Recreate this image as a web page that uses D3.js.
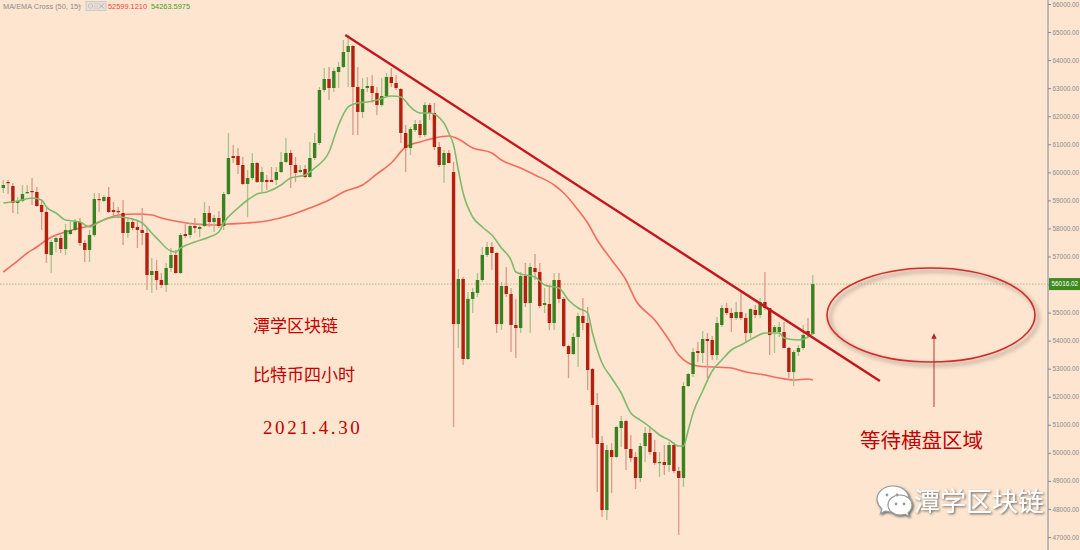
<!DOCTYPE html>
<html><head><meta charset="utf-8">
<script src="https://cdn.jsdelivr.net/npm/d3@7"></script>
<style>
html,body{margin:0;padding:0;background:#fde5cf;}
svg{display:block;}
</style></head>
<body>
<svg id="chart" width="1080" height="550"></svg>
<script>
// ---- data (4h BTC candles) ----
const open = [59441,59655,59512,58906,58977,59263,59334,59298,58835,58585,57053,57516,57658,57266,57801,57944,58229,57480,57231,57765,
59049,58977,59120,58657,58621,58550,57837,58229,58051,57944,57837,56340,56482,56161,55983,56589,57053,56411,57801,57765,
58086,57980,58086,58550,58229,58372,58086,59227,60582,60582,60261,59584,59798,60332,59655,59726,59726,59726,60011,60368,
60689,60261,60011,60118,59833,60510,61045,62935,63327,63006,63576,63755,64289,64503,63042,62150,63006,63077,62828,62400,
62721,63398,63184,62970,61402,60867,61508,61722,61330,62400,62115,60902,60261,60689,60011,54592,56197,53345,55486,55698,
56161,57053,57338,57124,54592,55947,55662,54557,54450,56304,55341,56589,56447,55270,55306,54628,56161,55486,53808,53523,
54129,54878,54628,52988,51705,50351,47962,50100,49851,50885,51134,50136,49851,49103,50243,50707,50029,49637,49673,49566,
50279,49352,49103,52382,52810,53630,53559,54058,54022,53487,54557,55163,54985,54806,55020,54806,54272,55092,54914,55377,
55163,54307,54307,54307,53737,52881,53594,53737,54343,54236];
const high = [59726,59726,59619,59120,59548,59548,59798,59477,59013,58728,57587,57765,57765,58158,58229,58336,58372,57587,57944,59263,
59263,59191,59477,58942,58764,59013,58372,58372,58300,58728,58015,56946,56874,56411,56767,57302,57231,57837,58158,58193,
58372,58193,58942,58799,58478,58621,59298,61402,60974,60867,60546,60083,60689,60368,60190,59905,60190,60190,60724,61223,
60796,60546,60261,60261,61081,61402,63042,63719,63755,63719,63933,64717,64895,64539,63755,63362,63398,63469,63042,63362,
63541,63719,63469,63006,61687,61615,61865,61865,62507,62471,62471,61081,60796,60796,60368,56553,56268,55733,55876,56411,
57338,57516,57516,57159,56090,56625,55876,55486,56447,56767,56767,57088,56767,55876,55912,56411,56411,55555,53844,54272,
54985,55519,55199,53024,52133,50600,50279,50351,50956,51313,51170,50636,50029,50351,50921,50885,50457,50029,50279,50386,
50386,49494,52525,52846,53737,53951,54343,54272,54165,54842,55270,55341,55163,55377,55733,54985,55163,55270,55519,56447,
55163,54557,54664,54664,53773,53666,53844,54557,54806,56340];
const low = [59263,59227,58550,58514,58942,59227,58835,58764,57944,56767,56411,57159,57124,57053,57765,57908,57373,56803,56803,57694,
58585,58942,58550,58407,58372,57409,57658,57944,57302,57409,55805,55698,55805,55876,55733,56447,56375,56375,57658,57658,
57837,57694,58051,58051,57872,58015,57944,59191,60332,59940,59548,58407,59726,59619,59298,59370,59655,59548,59976,60332,
59441,59655,59976,59798,59798,60439,60974,62864,62578,62864,63006,63719,63042,61330,61330,61936,62864,62471,62043,62329,
62685,63042,62935,61045,60011,60617,61437,61223,61259,61865,60796,60190,59619,60332,50921,53737,53131,53309,54985,55555,
56090,56981,56518,54272,54379,55555,53594,53381,54272,55199,54272,56161,55163,54985,54379,54379,55341,53773,52668,53487,
53060,54379,52240,50529,48603,47712,47605,48568,49815,50207,49388,49673,48710,48960,49673,49922,49566,49138,49210,49316,
49281,47070,48782,52347,52703,53238,53202,52668,53309,53309,54485,54914,54307,54735,54735,53951,54093,54806,54806,55092,
53487,53559,54129,53737,52668,52382,53452,53666,54129,54200];
const close = [59548,59619,58906,58977,59227,59298,59298,58799,58585,57088,57516,57658,57266,57944,57944,58229,57480,57231,57765,59049,
59013,59120,58585,58585,58585,57837,58229,58015,57944,57837,56340,56482,56161,55983,56589,57053,56411,57765,57730,58086,
58015,58051,58550,58229,58372,58086,59227,60510,60510,60261,59584,59798,60332,59655,60011,59655,59655,60011,60368,60689,
60261,59976,60083,59833,60510,61045,62935,63327,63006,63612,63755,64289,64503,63042,62150,62970,63077,62828,62400,62721,
63398,63184,63006,61402,60867,61544,61722,61330,62400,62115,60902,60261,60689,60332,54592,56197,53345,55486,55733,56161,
57053,57338,57124,54592,55947,55662,54557,54450,56304,55341,56625,56447,55234,55341,54628,56161,55486,53808,53523,54129,
54878,54628,52953,51705,50314,47962,50100,49851,50921,51134,50136,49815,49103,50243,50707,50029,49637,49673,49566,50279,
49352,49103,52382,52810,53594,53559,54058,53986,53487,54628,55163,54985,54806,55020,54806,54272,55127,54914,55377,55163,
54200,54485,54485,53737,52881,53594,53737,54200,54236,56016];

// EMA(15) line, sampled at candle indices
const emaIdx = [0,3,6,8,9,11,13,16,18,20,22,24,26,29,31,33,34,36,37,40,43,45,46,49,51,53,55,58,60,63,65,68,70,72,74,76,78,81,83,85,87,89,92,93,94,95,96,98,100,102,104,106,107,109,111,113,116,118,120,122,123,125,127,129,131,133,135,137,139,141,142,143,144,146,148,150,152,154,157,159,162,163,166,168,169];
const emaVal = [58906,58977,59084,59013,58764,58550,58300,58229,58051,58229,58372,58407,58372,58193,57837,57480,57302,57159,57302,57516,57694,57872,58193,58728,59013,59227,59298,59548,59798,59905,60154,60724,61687,62329,62471,62507,62578,62721,62685,62329,62115,62115,61758,61402,60974,60083,59263,58407,58051,57765,57302,56874,56447,56340,56268,55983,55876,55448,55163,54985,54272,53202,52668,52133,51420,51170,50921,50636,50457,50243,50243,50814,51420,52204,52917,53309,53666,53844,54129,54272,54272,54093,54022,54129,54264];
// MA(50) line, sampled at candle indices
const maIdx = [0,3,5,7,9,11,13,16,18,20,22,24,28,31,33,37,40,44,47,51,55,60,64,68,71,75,78,81,84,87,90,93,95,98,102,104,108,111,115,117,120,122,124,127,130,132,136,139,141,143,145,148,152,155,159,162,165,168,169];
const maVal = [56447,56839,57124,57338,57587,57765,57872,58015,58086,58229,58372,58478,58514,58478,58372,58229,58158,58122,58158,58193,58265,58478,58728,59013,59298,59548,59940,60332,60902,61081,61223,61295,61188,60867,60689,60439,60154,59905,59548,59263,58657,58193,57587,56874,56161,55448,54735,54022,53487,53202,53095,53060,53024,52881,52774,52668,52596,52632,52599];
// hand-drawn resistance line (candle index, price)
const trendIdx = [71.4, 183];
const trendVal = [64895, 52560];
const lastPrice = 56016.02;
const yTicks = [47000,48000,49000,50000,51000,52000,53000,54000,55000,56000,57000,58000,59000,60000,61000,62000,63000,64000,65000,66000];
const legendLabel = "MA/EMA Cross (50, 15)";
const legendMA = "52599.1210";
const legendEMA = "54263.5975";
const notes = ["潭学区块链","比特币四小时","2021.4.30"];
const waitNote = "等待横盘区域";
const watermark = "潭学区块链";

// ---- drawing ----
const svg = d3.select("#chart");
const W = 1080, H = 550, axisX = 1048;
const x = d3.scaleLinear().domain([0, 169]).range([3.3, 812.8]);
const y = d3.scaleLinear().domain([47000, 66000]).range([537, 4]);

svg.append("rect").attr("width", W).attr("height", H).attr("fill", "#fde5cf");

const defs = svg.append("defs");
const blur = defs.append("filter").attr("id","blur").attr("x","-20%").attr("y","-20%").attr("width","140%").attr("height","140%");
blur.append("feGaussianBlur").attr("stdDeviation", 2);
const ts = defs.append("filter").attr("id","tshadow").attr("x","-10%").attr("y","-20%").attr("width","130%").attr("height","150%");
ts.append("feDropShadow").attr("dx",1.2).attr("dy",1.2).attr("stdDeviation",0.8).attr("flood-color","#555").attr("flood-opacity",0.9);
defs.append("marker").attr("id","arr").attr("viewBox","0 0 10 10").attr("refX",5).attr("refY",5)
  .attr("markerWidth",6).attr("markerHeight",6).attr("orient","auto")
  .append("path").attr("d","M0,0 L10,5 L0,10 z").attr("fill","#b22222");

// last price dotted line
svg.append("line").attr("x1",0).attr("x2",axisX).attr("y1",y(lastPrice)).attr("y2",y(lastPrice))
  .attr("stroke","#a9bd82").attr("stroke-width",1).attr("stroke-dasharray","1.5,1.5");

// MA lines
const lineGen = (idx, val) => d3.line().x((d,i)=>x(idx[i])).y((d,i)=>y(val[i])).curve(d3.curveMonotoneX)(idx);
svg.append("path").attr("d", lineGen(maIdx, maVal)).attr("fill","none").attr("stroke","#f66a5f").attr("stroke-width",1.6);

// candles
const N = open.length;
const idxs = d3.range(N);
const g = svg.append("g");
g.selectAll("line.wick").data(idxs).join("line")
  .attr("x1", i=>x(i)).attr("x2", i=>x(i))
  .attr("y1", i=>y(high[i])).attr("y2", i=>y(low[i]))
  .attr("stroke", i=> close[i]>=open[i] ? "#a8c38a" : "#dc9888").attr("stroke-width",1.3);
g.selectAll("rect.body").data(idxs).join("rect")
  .attr("x", i=>x(i)-1.7).attr("width",3.4)
  .attr("y", i=>y(Math.max(open[i],close[i])))
  .attr("height", i=>Math.max(1.2, Math.abs(y(open[i])-y(close[i]))))
  .attr("fill", i=> close[i]>=open[i] ? "#3a8220" : "#b3200e");

svg.append("path").attr("d", lineGen(emaIdx, emaVal)).attr("fill","none").attr("stroke","#7fba6c").attr("stroke-width",1.6);

// trend line
svg.append("line").attr("x1",x(trendIdx[0])).attr("y1",y(trendVal[0])).attr("x2",x(trendIdx[1])).attr("y2",y(trendVal[1]))
  .attr("stroke","#c4161c").attr("stroke-width",2.4);

// right axis
svg.append("line").attr("x1",axisX).attr("x2",axisX).attr("y1",0).attr("y2",H).attr("stroke","#7d8a9c").attr("stroke-width",1);
const ax = svg.append("g").attr("transform",`translate(${axisX},0)`)
  .call(d3.axisRight(y).tickValues(yTicks).tickSize(3).tickPadding(1.5).tickFormat(d=>d3.format(".2f")(d)));
ax.select(".domain").remove();
ax.selectAll(".tick line").attr("stroke","#7d8a9c");
ax.selectAll(".tick text").attr("fill","#8a8a8a").attr("font-family","Liberation Sans, Arial, sans-serif").attr("font-size",6.4);

// last price tag
svg.append("rect").attr("x",axisX+1).attr("y",y(lastPrice)-6).attr("width",W-axisX-1).attr("height",12).attr("fill","#3f8a1e");
svg.append("text").attr("x",axisX+3.5).attr("y",y(lastPrice)+2.4).text(d3.format(".2f")(lastPrice))
  .attr("fill","#ffffff").attr("font-family","Liberation Sans, Arial, sans-serif").attr("font-size",6.4);

// legend
const lg = svg.append("g").attr("font-family","Liberation Sans, Arial, sans-serif").attr("font-size",7.4);
lg.append("text").attr("x",3).attr("y",8.5).attr("fill","#8c8c8c").text(legendLabel);
lg.append("path").attr("d","M77.5,5 L79.5,7 L81.5,5").attr("fill","none").attr("stroke","#aaaaaa").attr("stroke-width",0.8);
lg.append("rect").attr("x",86).attr("y",1.5).attr("width",9).attr("height",9).attr("fill","#e6e0da").attr("stroke","#cfcac4");
lg.append("rect").attr("x",97).attr("y",1.5).attr("width",9).attr("height",9).attr("fill","#e6e0da").attr("stroke","#cfcac4");
lg.append("path").attr("d","M99,3.5 L104,8.5 M104,3.5 L99,8.5").attr("stroke","#b5b0aa").attr("stroke-width",1);
lg.append("circle").attr("cx",90.5).attr("cy",6).attr("r",2.2).attr("fill","none").attr("stroke","#c4bfb9").attr("stroke-width",0.9);
lg.append("text").attr("x",108).attr("y",8.5).attr("fill","#f0463e").text(legendMA);
lg.append("text").attr("x",151).attr("y",8.5).attr("fill","#4c9a2a").text(legendEMA);

// notes
const cjk = "'Noto Sans CJK SC', 'Noto Sans CJK JP', sans-serif";
svg.append("text").attr("x",253).attr("y",332).text(notes[0]).attr("fill","#c40000").attr("font-family",cjk).attr("font-size",17);
svg.append("text").attr("x",253).attr("y",381).text(notes[1]).attr("fill","#c40000").attr("font-family",cjk).attr("font-size",17);
svg.append("text").attr("x",263).attr("y",434).text(notes[2]).attr("fill","#c40000").attr("font-family","'Liberation Serif', serif").attr("font-size",19).attr("letter-spacing",2.6);
svg.append("text").attr("x",860).attr("y",448).text(waitNote).attr("fill","#c40000").attr("font-family",cjk).attr("font-size",20.5);

// ellipse + arrow
svg.append("ellipse").attr("cx",934).attr("cy",318).attr("rx",104).attr("ry",47).attr("fill","none")
  .attr("stroke","#7a6a60").attr("stroke-width",2.5).attr("opacity",0.55).attr("filter","url(#blur)");
svg.append("ellipse").attr("cx",931).attr("cy",315).attr("rx",104).attr("ry",47).attr("fill","none")
  .attr("stroke","#d42a2a").attr("stroke-width",1.6);
svg.append("line").attr("x1",934).attr("y1",407).attr("x2",934).attr("y2",336)
  .attr("stroke","#b22222").attr("stroke-width",0.9).attr("marker-end","url(#arr)");

// watermark
const wm = svg.append("g").attr("filter","url(#tshadow)");
wm.append("path").attr("d","M893,486 c-9,0 -16,6 -16,13 c0,4 2,7 5,10 l-1.5,4.5 l5,-2.5 c2,0.6 4.5,1 7.5,1 c9,0 16,-6 16,-13 c0,-7 -7,-13 -16,-13 z")
  .attr("fill","#ffffff").attr("stroke","#9a9a9a").attr("stroke-width",1.2);
wm.append("path").attr("d","M900,495 c-7,0 -12,4.5 -12,10 c0,5.5 5,10 12,10 c1.8,0 3.5,-0.3 5,-0.8 l4,2 l-1,-3.5 c2.5,-2 4,-4.5 4,-7.7 c0,-5.5 -5,-10 -12,-10 z")
  .attr("fill","#ffffff").attr("stroke","#9a9a9a").attr("stroke-width",1.2);
[[887,495],[897,495],[896,504],[904,504]].forEach(p=>wm.append("circle").attr("cx",p[0]).attr("cy",p[1]).attr("r",1.4).attr("fill","#9a9a9a"));
wm.append("text").attr("x",914).attr("y",511).text(watermark).attr("fill","#ffffff").attr("font-family",cjk).attr("font-size",26);
</script>
</body></html>
